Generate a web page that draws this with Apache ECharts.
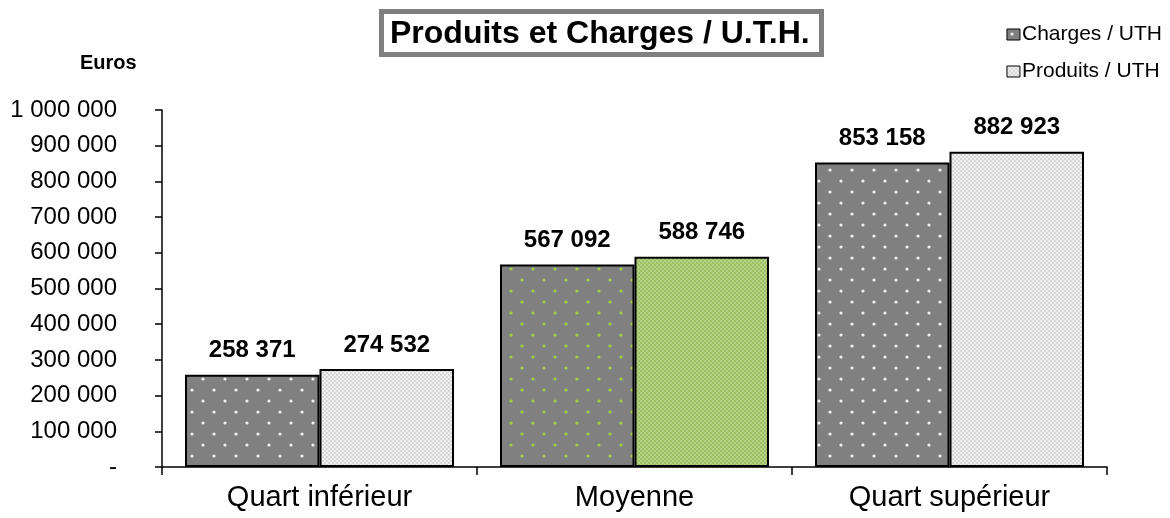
<!DOCTYPE html>
<html lang="fr">
<head>
    <meta charset="UTF-8">
    <title>Produits et Charges / U.T.H.</title>
    <script src="https://cdn.jsdelivr.net/npm/echarts@6/dist/echarts.min.js"></script>
</head>
<style>
    html, body { margin: 0; padding: 0; background: #fff; }
    #container { width: 1170px; height: 518px; }
</style>
<body>
<div id="container"></div>
<script>
    // données
    var categories = ['Quart inférieur', 'Moyenne', 'Quart supérieur'];
    var charges = [258371, 567092, 853158];
    var produits = [274532, 588746, 882923];
    var yTicks = [0, 100000, 200000, 300000, 400000, 500000, 600000, 700000, 800000, 900000, 1000000];

    // petits motifs façon Excel
    function dotPattern(bg, dot)
    {
        var c = document.createElement('canvas');
        c.width = 22; c.height = 22;
        var ctx = c.getContext('2d');
        ctx.fillStyle = bg;
        ctx.fillRect(0, 0, 22, 22);
        ctx.fillStyle = dot;
        [[5, 5], [16, 16]].forEach(function (p)
        {
            ctx.beginPath();
            ctx.arc(p[0], p[1], 1.6, 0, Math.PI * 2);
            ctx.fill();
        });
        return {image: c, repeat: 'repeat'};
    }

    function checkerPattern(a, b)
    {
        var c = document.createElement('canvas');
        c.width = 4; c.height = 4;
        var ctx = c.getContext('2d');
        ctx.fillStyle = a;
        ctx.fillRect(0, 0, 4, 4);
        ctx.fillStyle = b;
        ctx.fillRect(0, 0, 2, 2);
        ctx.fillRect(2, 2, 2, 2);
        return {image: c, repeat: 'repeat'};
    }

    var greyDots = dotPattern('#808080', '#f0f0f0');
    var greenDots = dotPattern('#808080', '#a6cf4a');
    var lightChecker = checkerPattern('#d6d6d6', '#f0f0f0');
    var greenChecker = checkerPattern('#9dbf62', '#b4d38a');

    function fmt(v)
    {
        if (v === 0) return '-';
        return String(v).replace(/\B(?=(\d{3})+(?!\d))/g, ' ');
    }

    var chart = echarts.init(document.getElementById('container'));

    var option = {
        animation: false,
        textStyle: {fontFamily: 'Liberation Sans, Arial, sans-serif'},
        title: {
            text: 'Produits et Charges / U.T.H.',
            left: 381,
            top: 11,
            padding: [7, 12, 5, 9],
            borderColor: '#7f7f7f',
            borderWidth: 5,
            textStyle: {fontSize: 32, fontWeight: 'bold', color: '#000'}
        },
        legend: {
            orient: 'vertical',
            right: 3,
            top: 19,
            itemGap: 16,
            itemWidth: 13,
            itemHeight: 11,
            icon: 'rect',
            selectedMode: false,
            textStyle: {fontSize: 21, color: '#000', padding: [0, 0, 0, -3]},
            data: [
                {name: 'Charges / UTH', itemStyle: {borderColor: '#000', borderWidth: 1}},
                {name: 'Produits / UTH', itemStyle: {borderColor: '#000', borderWidth: 1}}
            ]
        },
        graphic: [{
            type: 'text',
            left: 80,
            top: 53,
            style: {text: 'Euros', fontSize: 20, fontWeight: 'bold', fill: '#000', fontFamily: 'Liberation Sans, Arial, sans-serif'}
        }],
        grid: {left: 162, right: 63, top: 110, bottom: 51, containLabel: false},
        xAxis: {
            type: 'category',
            data: categories,
            axisLine: {lineStyle: {color: '#000', width: 1.5}},
            axisTick: {show: true, length: 8, lineStyle: {color: '#000', width: 1.5}},
            axisLabel: {fontSize: 29, color: '#000', margin: 16}
        },
        yAxis: {
            type: 'value',
            min: 0,
            max: 1000000,
            interval: 100000,
            splitLine: {show: false},
            axisLine: {show: true, lineStyle: {color: '#000', width: 1.5}},
            axisTick: {show: true, length: 7, lineStyle: {color: '#000', width: 1.5}},
            axisLabel: {fontSize: 24, color: '#000', margin: 45, formatter: fmt}
        },
        series: [
            {
                name: 'Charges / UTH',
                type: 'bar',
                barGap: '0%',
                barCategoryGap: '14.6%',
                itemStyle: {color: greyDots, borderColor: '#000', borderWidth: 2},
                label: {show: true, position: 'top', distance: 12, fontSize: 24, fontWeight: 'bold', color: '#000', formatter: function (p) { return fmt(p.value); }},
                data: charges.map(function (v, i)
                {
                    return i === 1 ? {value: v, itemStyle: {color: greenDots}} : v;
                })
            },
            {
                name: 'Produits / UTH',
                type: 'bar',
                barGap: '0%',
                barCategoryGap: '14.6%',
                itemStyle: {color: lightChecker, borderColor: '#000', borderWidth: 2},
                label: {show: true, position: 'top', distance: 12, fontSize: 24, fontWeight: 'bold', color: '#000', formatter: function (p) { return fmt(p.value); }},
                data: produits.map(function (v, i)
                {
                    return i === 1 ? {value: v, itemStyle: {color: greenChecker}} : v;
                })
            }
        ]
    };

    chart.setOption(option);
</script>
</body>
</html>
